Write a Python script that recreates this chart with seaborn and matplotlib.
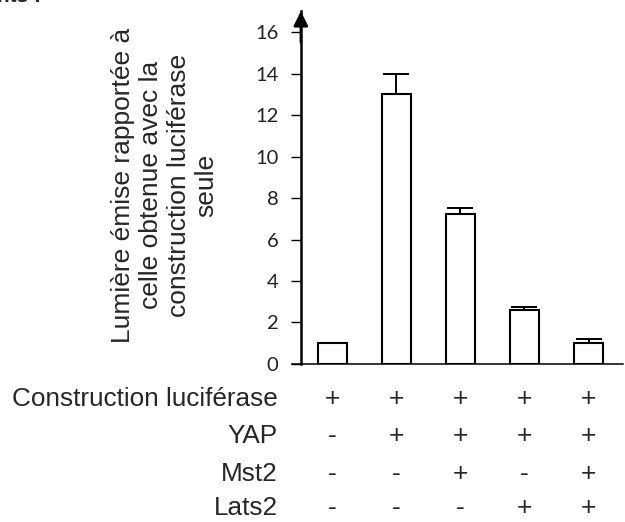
import matplotlib
matplotlib.use("Agg")
import matplotlib.pyplot as plt
import pandas as pd
import seaborn as sns

# valeurs
conditions = ["C1", "C2", "C3", "C4", "C5"]
lumiere = [1.0, 13.0, 7.25, 2.58, 1.02]
erreur = [0.0, 1.0, 0.25, 0.15, 0.2]

row_labels = ["Construction luciférase", "YAP", "Mst2", "Lats2"]
signes = [
    ["+", "+", "+", "+", "+"],
    ["-", "+", "+", "+", "+"],
    ["-", "-", "+", "-", "+"],
    ["-", "-", "-", "+", "+"],
]
row_y = [-1.69, -3.48, -5.3, -6.95]

ylabel = ("Lumière émise rapportée à\ncelle obtenue avec la\n"
          "construction luciférase\nseule")

sns.set_theme(style="ticks")
plt.rcParams["font.family"] = ["Liberation Sans", "DejaVu Sans"]

df = pd.DataFrame({"condition": conditions, "lumiere": lumiere})

fig = plt.figure(figsize=(6.25, 5.22), dpi=100)
ax = fig.add_axes([0.467, 0.3027, 0.53, 0.6757])

sns.barplot(data=df, x="condition", y="lumiere", color="white",
            edgecolor="black", linewidth=1.5, width=0.46, ax=ax)
ax.errorbar(range(len(conditions)), lumiere, yerr=[[0] * 5, erreur],
            fmt="none", ecolor="black", elinewidth=1.4, capsize=9.5,
            capthick=1.4, zorder=3)

ax.set_xlim(-0.63, 4.54)
ax.set_ylim(0, 17)
ax.set_yticks(range(0, 17, 2))
ax.set_xticks([])
ax.set_xlabel("")

for s in ["top", "right"]:
    ax.spines[s].set_visible(False)
ax.spines["left"].set_position(("data", -0.49))
ax.spines["left"].set_linewidth(1.8)
ax.spines["left"].set_color("black")
ax.spines["bottom"].set_linewidth(1.1)
ax.spines["bottom"].set_color("black")
ax.annotate("", xy=(-0.49, 17.0), xytext=(-0.49, 15.5),
            arrowprops=dict(arrowstyle="-|>", lw=1.8, color="black",
                            mutation_scale=22, shrinkA=0, shrinkB=0),
            annotation_clip=False)

ax.tick_params(axis="y", direction="out", length=7, width=1,
               color="black", pad=9, labelsize=14.5)
for t in ax.get_yticklabels():
    t.set_fontfamily("Lato")
    t.set_color("#222222")

ax.set_ylabel(ylabel, fontsize=19, linespacing=1.2,
              ha="center", va="center", multialignment="center")
ax.yaxis.set_label_coords(-0.384, 0.507)

for lab, y, row in zip(row_labels, row_y, signes):
    ax.text(-0.85, y, lab, ha="right", va="center", fontsize=18.8,
            clip_on=False)
    for i, s in enumerate(row):
        ax.text(i, y, s, ha="center", va="center", fontsize=19,
                clip_on=False)

fig.text(-0.005, 0.997, "nts :", ha="left", va="baseline", fontsize=15,
         fontweight="bold")

fig.savefig("out.png", dpi=100)
